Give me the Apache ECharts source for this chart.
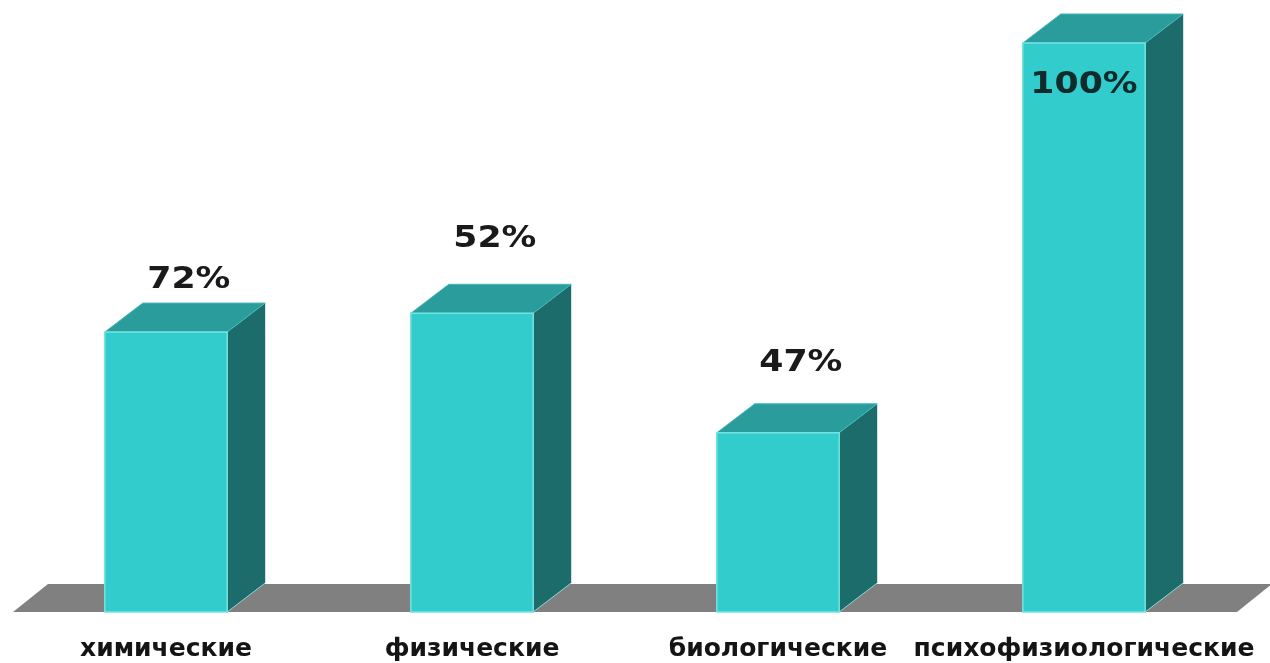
<!DOCTYPE html>
<html>
<head>
<meta charset="utf-8">
<script src="https://cdn.jsdelivr.net/npm/echarts@6/dist/echarts.min.js"></script>
<style>
html,body{margin:0;padding:0;background:#ffffff;}
#chart{width:1270px;height:663px;}
</style>
</head>
<body>
<div id="chart"></div>
<script>
// Categories (x axis)
const categories = ['химические', 'физические', 'биологические', 'психофизиологические'];
// Bar heights as drawn in the picture, in % of the tallest bar
const barHeights = [49.2, 52.5, 31.5, 100];
// Value labels printed on the chart
const labelTexts = ['72%', '52%', '47%', '100%'];
// Vertical level (same value scale) at which each label sits in the picture
const labelLevels = [58.3, 65.6, 43.8, 92.7];

const DEPTH_X = 38, DEPTH_Y = 29;
const FLOOR_DX = 35, FLOOR_DY = 28;

const chart = echarts.init(document.getElementById('chart'), null, {renderer: 'canvas'});

const barData = categories.map((c, i) => [i, barHeights[i], labelLevels[i]]);

function renderFloor(params, api) {
  const cs = params.coordSys;
  const b = cs.y + cs.height;
  const l = cs.x, r = cs.x + cs.width;
  return {
    type: 'polygon',
    shape: {points: [[l, b], [r, b], [r + FLOOR_DX, b - FLOOR_DY], [l + FLOOR_DX, b - FLOOR_DY]]},
    style: {fill: '#808080'}
  };
}

function renderBar(params, api) {
  const idx = api.value(0);
  const v = api.value(1);
  const level = api.value(2);
  const base = api.coord([idx, 0]);
  const top = api.coord([idx, v]);
  const w = api.size([1, 0])[0] * 0.4;
  const x0 = base[0] - w / 2, x1 = base[0] + w / 2;
  const y0 = top[1], y1 = base[1];
  const ly = api.coord([idx, level])[1];
  const inside = level < v;
  const lx = inside ? base[0] : base[0] + DEPTH_X * 0.6;
  return {
    type: 'group',
    children: [
      {
        type: 'polygon',
        shape: {points: [[x1, y0], [x1 + DEPTH_X, y0 - DEPTH_Y], [x1 + DEPTH_X, y1 - DEPTH_Y], [x1, y1]]},
        style: {fill: '#1d6c6c'}
      },
      {
        type: 'polygon',
        shape: {points: [[x0, y0], [x1, y0], [x1 + DEPTH_X, y0 - DEPTH_Y], [x0 + DEPTH_X, y0 - DEPTH_Y]]},
        style: {fill: '#2a9c9c', stroke: '#43b8b8', lineWidth: 1}
      },
      {
        type: 'rect',
        shape: {x: x0, y: y0, width: w, height: y1 - y0},
        style: {fill: '#33cccc', stroke: '#74e2e2', lineWidth: 1.5}
      },
      {
        type: 'line',
        shape: {x1: x1, y1: y1, x2: x1 + DEPTH_X, y2: y1 - DEPTH_Y},
        style: {stroke: '#8fd6d6', lineWidth: 1}
      },
      {
        type: 'text',
        x: lx,
        y: ly,
        scaleX: 1.12,
        style: {
          text: labelTexts[params.dataIndex],
          font: 'bold 31px "DejaVu Sans"',
          fill: inside ? '#0f2b2b' : '#1a1a1a',
          align: 'center',
          verticalAlign: 'middle'
        }
      }
    ]
  };
}

chart.setOption({
  backgroundColor: '#ffffff',
  animation: false,
  grid: {left: 13, right: 33, top: 43, bottom: 51, containLabel: false},
  xAxis: {
    type: 'category',
    data: categories,
    axisLine: {show: false},
    axisTick: {show: false},
    splitLine: {show: false},
    axisLabel: {
      margin: 25,
      fontSize: 25,
      fontWeight: 'bold',
      fontFamily: 'DejaVu Sans',
      color: '#141414',
      interval: 0
    }
  },
  yAxis: {type: 'value', min: 0, max: 100, show: false},
  series: [
    {
      type: 'custom',
      name: 'floor',
      renderItem: renderFloor,
      data: [[0, 0]],
      z: 1,
      silent: true
    },
    {
      type: 'custom',
      name: 'bars',
      renderItem: renderBar,
      data: barData,
      encode: {x: 0, y: 1},
      z: 2
    }
  ]
});
</script>
</body>
</html>
